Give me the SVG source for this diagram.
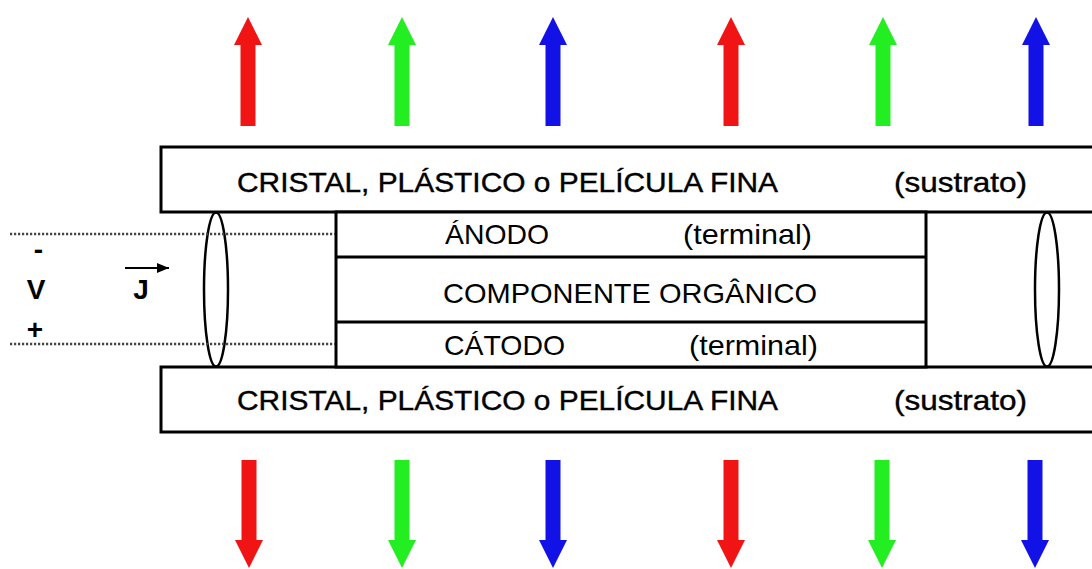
<svg xmlns="http://www.w3.org/2000/svg" width="1092" height="569" viewBox="0 0 1092 569">
  <style>
    .box { fill: #fff; stroke: #000; stroke-width: 3; }
    .ln { stroke: #000; stroke-width: 3; fill: none; }
    .ell { fill: none; stroke: #000; stroke-width: 2.5; }
    .dot { stroke: #444; stroke-width: 2.5; stroke-dasharray: 2.2 1.8; fill: none; }
    .t { font-family: "Liberation Sans", Arial, sans-serif; font-size: 28px; fill: #000; }
    .sub { stroke: #000; stroke-width: 0.4; }
    .b { font-weight: bold; }
    .red { fill: #f01414; }
    .green { fill: #22ee22; }
    .blue { fill: #1212e6; }
  </style>
  <defs>
    <path id="up" d="M0,17 L14,45 L7.5,45 L7.5,126 L-7.5,126 L-7.5,45 L-14,45 Z"/>
    <path id="down" d="M-7.5,460 L7.5,460 L7.5,540 L14,540 L0,568 L-14,540 L-7.5,540 Z"/>
    <marker id="ah" viewBox="0 0 12 10" refX="12" refY="5" markerWidth="12" markerHeight="10" markerUnits="userSpaceOnUse" orient="auto">
      <path d="M0,0 L12,5 L0,10 Z" fill="#000"/>
    </marker>
  </defs>

  <rect width="1092" height="569" fill="#fff"/>

  <g id="light-up">
    <use href="#up" x="248" class="red"/>
    <use href="#up" x="402" class="green"/>
    <use href="#up" x="553" class="blue"/>
    <use href="#up" x="731" class="red"/>
    <use href="#up" x="883" class="green"/>
    <use href="#up" x="1036" class="blue"/>
  </g>
  <g id="light-down">
    <use href="#down" x="249" class="red"/>
    <use href="#down" x="402" class="green"/>
    <use href="#down" x="553" class="blue"/>
    <use href="#down" x="731" class="red"/>
    <use href="#down" x="882" class="green"/>
    <use href="#down" x="1035" class="blue"/>
  </g>

  <g id="substrate-top">
    <rect class="box" x="161" y="147" width="945" height="65"/>
    <text class="t sub" x="237" y="192" textLength="541" lengthAdjust="spacingAndGlyphs">CRISTAL, PLÁSTICO o PELÍCULA FINA</text>
    <text class="t sub" x="894" y="192" textLength="133" lengthAdjust="spacingAndGlyphs">(sustrato)</text>
  </g>

  <g id="substrate-bottom">
    <rect class="box" x="161" y="367" width="945" height="65"/>
    <text class="t sub" x="237" y="410" textLength="541" lengthAdjust="spacingAndGlyphs">CRISTAL, PLÁSTICO o PELÍCULA FINA</text>
    <text class="t sub" x="894" y="410" textLength="133" lengthAdjust="spacingAndGlyphs">(sustrato)</text>
  </g>

  <g id="layers">
    <rect class="box" x="336" y="212" width="590" height="155"/>
    <line class="ln" x1="336" y1="257" x2="926" y2="257"/>
    <line class="ln" x1="336" y1="322" x2="926" y2="322"/>
  </g>
  <g id="anodo">
    <text class="t" x="445" y="244" textLength="104" lengthAdjust="spacingAndGlyphs">ÁNODO</text>
    <text class="t" x="683" y="244" textLength="129" lengthAdjust="spacingAndGlyphs">(terminal)</text>
  </g>
  <g id="organico">
    <text class="t" x="443" y="303" textLength="374" lengthAdjust="spacingAndGlyphs">COMPONENTE ORGÂNICO</text>
  </g>
  <g id="catodo">
    <text class="t" x="444" y="355" textLength="121" lengthAdjust="spacingAndGlyphs">CÁTODO</text>
    <text class="t" x="689" y="355" textLength="129" lengthAdjust="spacingAndGlyphs">(terminal)</text>
  </g>

  <g id="contacts">
    <ellipse class="ell" cx="216" cy="289.5" rx="12" ry="77"/>
    <ellipse class="ell" cx="1047" cy="289.5" rx="12" ry="77"/>
  </g>

  <g id="connectors">
    <line class="dot" x1="10" y1="234" x2="335" y2="234"/>
    <line class="dot" x1="10" y1="344" x2="335" y2="344"/>
    <line x1="125" y1="268" x2="169" y2="268" stroke="#000" stroke-width="2" marker-end="url(#ah)"/>
  </g>

  <g id="voltage">
    <text class="t b" x="38.5" y="259" text-anchor="middle">-</text>
    <text class="t b" x="36" y="299" text-anchor="middle">V</text>
    <text class="t b" x="35" y="339" text-anchor="middle" font-size="30">+</text>
    <text class="t b" x="141" y="299" text-anchor="middle">J</text>
  </g>
</svg>
